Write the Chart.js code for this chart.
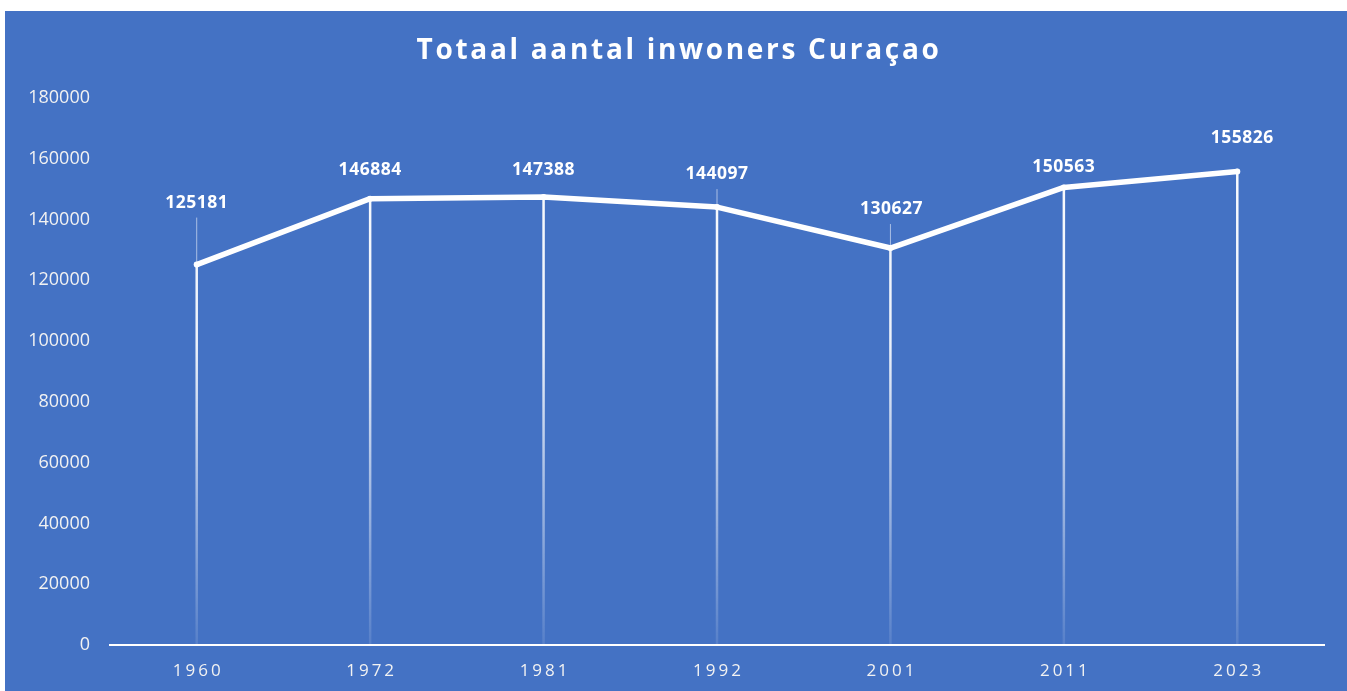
<!DOCTYPE html>
<html>
<head>
<meta charset="utf-8">
<script src="https://cdn.jsdelivr.net/npm/chart.js@4"></script>
<style>
  html, body { margin: 0; padding: 0; background: #ffffff; }
  #panel { position: absolute; left: 5px; top: 11px; width: 1342px; height: 680px; background: #4472c4; }
</style>
</head>
<body>
<div id="panel"><canvas id="inwonersChart"></canvas></div>
<script>
// Volkstellingen Curaçao
const years = ['1960', '1972', '1981', '1992', '2001', '2011', '2023'];
const inwoners = [125181, 146884, 147388, 144097, 130627, 150563, 155826];
const yMin = 0;
const yMax = 180000;
const yStep = 20000;
const chartTitle = 'Totaal aantal inwoners Curaçao';

const FONT = '"Open Sans", "Liberation Sans", sans-serif';

// drop lines (point -> axis), fading towards the bottom
const dropLines = {
    id: 'dropLines',
    beforeDatasetsDraw(chart) {
        const { ctx, chartArea, scales } = chart;
        const meta = chart.getDatasetMeta(0);
        const grad = ctx.createLinearGradient(0, chartArea.top, 0, chartArea.bottom);
        grad.addColorStop(0, 'rgba(255,255,255,1)');
        grad.addColorStop(0.45, 'rgba(255,255,255,0.9)');
        grad.addColorStop(1, 'rgba(255,255,255,0.1)');
        ctx.save();
        ctx.strokeStyle = grad;
        ctx.lineWidth = 2.5;
        meta.data.forEach(pt => {
            ctx.beginPath();
            ctx.moveTo(pt.x, pt.y);
            ctx.lineTo(pt.x, scales.y.getPixelForValue(0));
            ctx.stroke();
        });
        ctx.restore();
    }
};

// title, value labels (Excel-style, moved by hand) and spaced year labels
const labelPlugin = {
    id: 'labelPlugin',
    afterDatasetsDraw(chart, args, opts) {
        const { ctx, chartArea, scales, width } = chart;
        const meta = chart.getDatasetMeta(0);
        ctx.save();
        ctx.fillStyle = '#ffffff';
        ctx.textAlign = 'center';
        ctx.textBaseline = 'middle';

        // title
        ctx.font = 'bold 28px ' + FONT;
        ctx.letterSpacing = '2.7px';
        ctx.fillText(chartTitle, width / 2 + 3, 40);

        // value labels
        ctx.font = 'bold 17.5px ' + FONT;
        ctx.letterSpacing = '0.5px';
        meta.data.forEach((pt, i) => {
            const dy = opts.offsets[i];
            const dx = opts.shiftX[i];
            const ly = pt.y + dy;
            ctx.fillText(String(inwoners[i]), pt.x + dx, ly);
            if (opts.leaders[i]) {
                ctx.save();
                ctx.strokeStyle = 'rgba(255,255,255,0.55)';
                ctx.lineWidth = 1;
                ctx.beginPath();
                ctx.moveTo(pt.x, ly + 15);
                ctx.lineTo(pt.x, pt.y - 3);
                ctx.stroke();
                ctx.restore();
            }
        });

        // year labels on the category axis
        ctx.font = '17px ' + FONT;
        ctx.letterSpacing = '3px';
        ctx.fillStyle = '#f2f2f2';
        years.forEach((yr, i) => {
            ctx.fillText(yr, scales.x.getPixelForValue(i) + 1.5, chartArea.bottom + 26);
        });
        ctx.restore();
    }
};

new Chart(document.getElementById('inwonersChart'), {
    type: 'line',
    data: {
        labels: years,
        datasets: [{
            data: inwoners,
            borderColor: '#ffffff',
            borderWidth: 5.5,
            borderCapStyle: 'round',
            borderJoinStyle: 'round',
            pointRadius: 3,
            pointBackgroundColor: '#ffffff',
            pointBorderWidth: 0,
            tension: 0
        }]
    },
    options: {
        responsive: true,
        maintainAspectRatio: false,
        animation: false,
        layout: { padding: { top: 87, right: 23, bottom: 0, left: 0 } },
        plugins: {
            legend: { display: false },
            tooltip: { enabled: false },
            labelPlugin: {
                offsets: [-62, -29, -27, -33, -39, -20, -33],
                shiftX: [0, 0, 0, 0, 1, 0, 5],
                leaders: [true, false, false, true, true, false, false]
            }
        },
        scales: {
            x: {
                offset: true,
                grid: { display: false, drawTicks: false },
                border: { display: true, color: '#ffffff', width: 2 },
                ticks: { display: false },
                afterFit(scale) { scale.height = 46; }
            },
            y: {
                min: yMin,
                max: yMax,
                grid: { display: false, drawTicks: false },
                border: { display: false },
                ticks: {
                    stepSize: yStep,
                    padding: 20,
                    color: '#f2f2f2',
                    font: { family: FONT, size: 18 },
                    callback: v => String(v)
                },
                afterFit(scale) { scale.width = 105; }
            }
        }
    },
    plugins: [dropLines, labelPlugin]
});
</script>
</body>
</html>
